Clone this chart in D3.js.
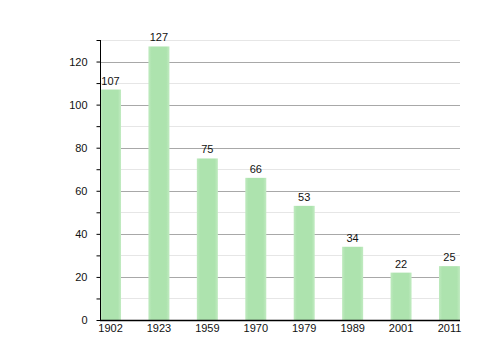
<!DOCTYPE html>
<html>
<head>
	<style type="text/css">
		body { margin: 0; background: #fff; }
		text {
		 font-family: "Liberation Sans", Arial, sans-serif;
		 font-size: 11px;
		 fill: #111;
		}
	</style>
</head>
<body>
	<svg></svg>
	<script src="https://cdnjs.cloudflare.com/ajax/libs/d3/7.8.5/d3.min.js"></script>
	<script type="text/javascript">
		var years = ['1902', '1923', '1959', '1970', '1979', '1989', '2001', '2011'];
		var values = [107, 127, 75, 66, 53, 34, 22, 25];
		var majorTicks = [0, 20, 40, 60, 80, 100, 120];
		var minorTicks = [10, 30, 50, 70, 90, 110, 130];

		var width = 500, height = 360;
		var plotLeft = 100, plotRight = 460, plotTop = 40, plotBottom = 320;

		var svg = d3.select('svg')
			.attr('width', width)
			.attr('height', height);

		var x = d3.scaleBand()
			.domain(years)
			.range([plotLeft, plotRight])
			.paddingInner(0.566)
			.paddingOuter(0);

		var y = d3.scaleLinear()
			.domain([0, 130])
			.range([plotBottom, plotTop]);

		var defs = svg.append('defs');
		var grad = defs.append('linearGradient')
			.attr('id', 'barfill')
			.attr('x1', 0).attr('x2', 1).attr('y1', 0).attr('y2', 0);
		grad.append('stop').attr('offset', '0%').attr('stop-color', '#bfeabf');
		grad.append('stop').attr('offset', '15%').attr('stop-color', '#ade3ae');
		grad.append('stop').attr('offset', '85%').attr('stop-color', '#ade3ae');
		grad.append('stop').attr('offset', '100%').attr('stop-color', '#c2ebc2');

		// gridlines
		svg.append('g').selectAll('line').data(minorTicks)
			.enter().append('line')
			.attr('x1', plotLeft).attr('x2', plotRight)
			.attr('y1', function(d) { return Math.round(y(d)) + 0.5; })
			.attr('y2', function(d) { return Math.round(y(d)) + 0.5; })
			.attr('stroke', '#e6e6e6');

		svg.append('g').selectAll('line').data(majorTicks.slice(1))
			.enter().append('line')
			.attr('x1', plotLeft).attr('x2', plotRight)
			.attr('y1', function(d) { return Math.round(y(d)) + 0.5; })
			.attr('y2', function(d) { return Math.round(y(d)) + 0.5; })
			.attr('stroke', '#a8a8a8');

		// bars
		svg.append('g').selectAll('rect').data(values)
			.enter().append('rect')
			.attr('x', function(d, i) { return x(years[i]); })
			.attr('width', x.bandwidth())
			.attr('y', function(d) { return y(d); })
			.attr('height', function(d) { return plotBottom - y(d); })
			.attr('fill', 'url(#barfill)');

		// value labels
		svg.append('g').selectAll('text').data(values)
			.enter().append('text')
			.attr('x', function(d, i) { return x(years[i]) + x.bandwidth() / 2; })
			.attr('y', function(d) { return y(d) - 5; })
			.attr('text-anchor', 'middle')
			.text(function(d) { return d; });

		// y axis
		var yAxis = d3.axisLeft(y)
			.tickValues(majorTicks)
			.tickSize(4)
			.tickPadding(9);
		var yg = svg.append('g')
			.attr('transform', 'translate(' + (plotLeft + 0.5) + ',0)')
			.call(yAxis);
		yg.select('.domain').attr('stroke', '#000').attr('d', 'M0,' + plotTop + 'V' + plotBottom);
		yg.selectAll('text').style('font-size', '11px').attr('fill', '#111');

		var yMinor = d3.axisLeft(y).tickValues(minorTicks).tickSize(4).tickFormat('');
		var ym = svg.append('g')
			.attr('transform', 'translate(' + (plotLeft + 0.5) + ',0)')
			.call(yMinor);
		ym.select('.domain').remove();

		// x axis
		var xAxis = d3.axisBottom(x).tickSize(0).tickPadding(4);
		var xg = svg.append('g')
			.attr('transform', 'translate(0,' + (plotBottom + 0.5) + ')')
			.call(xAxis);
		xg.select('.domain').attr('stroke', '#000').attr('stroke-width', 1.5).attr('d', 'M' + plotLeft + ',0H' + plotRight);
		xg.selectAll('text').style('font-size', '11px').attr('fill', '#111');
	</script>
</body>
</html>
